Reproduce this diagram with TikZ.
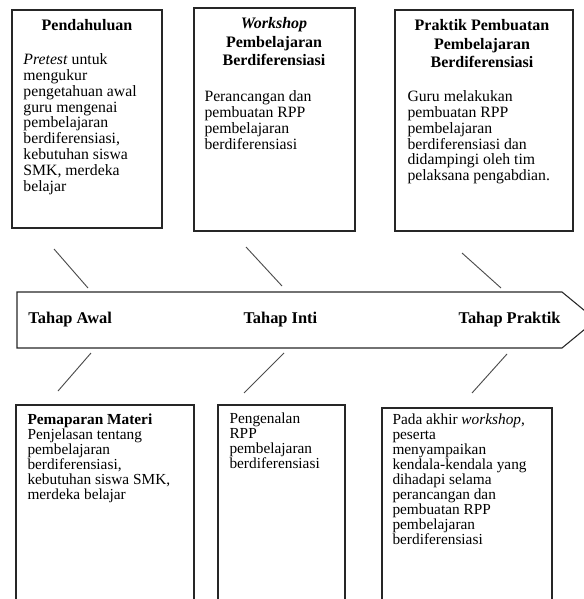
\documentclass[tikz,border=0pt]{standalone}
\usepackage{fontspec}
\setmainfont{Liberation Serif}
\usetikzlibrary{positioning}
\tikzset{
  every picture/.style={line width=0.75pt},
  kotak/.style={draw=black!85, line width=0.8pt},
  judul/.style={font=\bfseries\fontsize{12}{13.9}\selectfont, align=center, anchor=north, inner sep=0pt},
  isi/.style={font=\fontsize{11.8}{11.9}\selectfont, align=left, anchor=north west, inner sep=0pt},
  isibawah/.style={isi, font=\fontsize{11.5}{11.3}\selectfont},
  tahap/.style={font=\bfseries\fontsize{12.3}{14}\selectfont, inner sep=0pt},
  garis/.style={draw=black!70, line width=0.7pt},
}
\begin{document}
\begin{tikzpicture}[x=0.75pt, y=-0.75pt]
  \useasboundingbox (0,0) rectangle (584,599);
  \clip (0,0) rectangle (584,599);
  % ---------------- top row
  \draw[kotak] (12,10) rectangle (162,228);
  \node[judul] (pend) at (87,19) {Pendahuluan};
  \node[isi] (pendisi) at (23,53) {\textit{Pretest} untuk\\mengukur\\pengetahuan awal\\guru mengenai\\pembelajaran\\berdiferensiasi,\\kebutuhan siswa\\SMK, merdeka\\belajar};
  \draw[kotak] (194,8) rectangle (355,231);
  \node[judul] (work) at (274,17) {\textit{Workshop}\\Pembelajaran\\Berdiferensiasi};
  \node[isi] (workisi) at (204,90) {Perancangan dan\\pembuatan RPP\\pembelajaran\\berdiferensiasi};
  \draw[kotak] (395,10) rectangle (573,231);
  \node[judul] (prak) at (482,19) {Praktik Pembuatan\\Pembelajaran\\Berdiferensiasi};
  \node[isi] (prakisi) at (407,90) {Guru melakukan\\pembuatan RPP\\pembelajaran\\berdiferensiasi dan\\didampingi oleh tim\\pelaksana pengabdian.};
  % ---------------- arrow
  \draw[kotak] (17,292) -- (562,292) -- (596,320) -- (562,348) -- (17,348) -- cycle;
  \node[tahap, anchor=base west] (awal) at (28,323) {Tahap Awal};
  \node[tahap, anchor=base west] (inti) at (243,323) {Tahap Inti};
  \node[tahap, anchor=base east] (praktik) at (561,323) {Tahap Praktik};
  \draw[garis] (54,249) -- (88,288);
  \draw[garis] (246,247) -- (282,286);
  \draw[garis] (462,253) -- (501,288);
  \draw[garis] (91,353) -- (58,391);
  \draw[garis] (284,353) -- (244,393);
  \draw[garis] (507,354) -- (472,393);
  % ---------------- bottom row
  \draw[kotak] (16,620) -- (16,405) -- (194,405) -- (194,620);
  \node[isibawah] (papar) at (27,413) {\textbf{Pemaparan Materi}\\Penjelasan tentang\\pembelajaran\\berdiferensiasi,\\kebutuhan siswa SMK,\\merdeka belajar};
  \draw[kotak] (218,620) -- (218,405) -- (345,405) -- (345,620);
  \node[isibawah] (kenal) at (229,412) {Pengenalan\\RPP\\pembelajaran\\berdiferensiasi};
  \draw[kotak] (382,620) -- (382,408) -- (552,408) -- (552,620);
  \node[isibawah] (akhir) at (392,413) {Pada akhir \textit{workshop},\\peserta\\menyampaikan\\kendala-kendala yang\\dihadapi selama\\perancangan dan\\pembuatan RPP\\pembelajaran\\berdiferensiasi};
\end{tikzpicture}
\end{document}
